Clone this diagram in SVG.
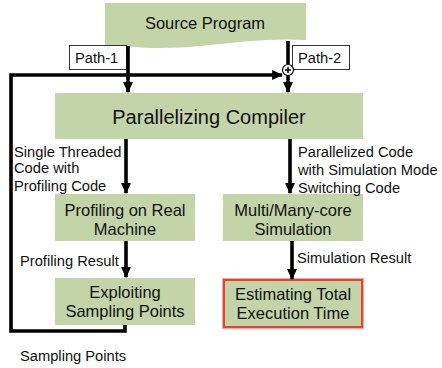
<svg xmlns="http://www.w3.org/2000/svg" width="442" height="368" viewBox="0 0 442 368">
<defs>
<style>
.box{fill:#c3d4a9;}
.t{font-family:"Liberation Sans",Arial,sans-serif;fill:#111;}
.big{font-size:20px;text-anchor:middle;}
.mid{font-size:16.5px;text-anchor:middle;}
.sm{font-size:14.7px;}
.ln{stroke:#000;stroke-width:3.6;fill:none;}
.lbl{fill:#fff;stroke:#333;stroke-width:1;}
</style>
<marker id="ah" viewBox="0 0 10 10" refX="9" refY="5" markerWidth="11" markerHeight="11" orient="auto" markerUnits="userSpaceOnUse">
<path d="M0,0.5 L10,5 L0,9.5 z" fill="#000"/>
</marker>
</defs>
<g id="source">
<path class="box" d="M105,3 H306 V40 C270,38 240,42 200,46 C160,50 130,47 105,45 Z"/>
<text class="t mid" x="205" y="29">Source Program</text>
</g>
<g id="path1label">
<rect class="lbl" x="69.5" y="45.5" width="57" height="24"/>
<text class="t sm" x="75" y="63">Path-1</text>
</g>
<g id="path2label">
<rect class="lbl" x="292.5" y="45.5" width="57" height="24"/>
<text class="t sm" x="298" y="63">Path-2</text>
</g>
<g id="compiler">
<rect class="box" x="55" y="93" width="308" height="46"/>
<text class="t big" x="209" y="124">Parallelizing Compiler</text>
</g>
<g id="profiling">
<rect class="box" x="55" y="194" width="140" height="47"/>
<text class="t mid" x="125" y="216">Profiling on Real</text>
<text class="t mid" x="125" y="235">Machine</text>
</g>
<g id="simulation">
<rect class="box" x="223" y="194" width="140" height="47"/>
<text class="t mid" x="293" y="216">Multi/Many-core</text>
<text class="t mid" x="293" y="235">Simulation</text>
</g>
<g id="exploiting">
<rect class="box" x="55" y="278" width="140" height="47"/>
<text class="t mid" x="125" y="298">Exploiting</text>
<text class="t mid" x="125" y="317">Sampling Points</text>
</g>
<g id="estimating">
<rect x="222.5" y="278.5" width="141" height="50" fill="none" stroke="#f4a79c" stroke-width="1"/>
<rect class="box" x="224" y="280" width="138" height="47" stroke="#e8432f" stroke-width="2"/>
<text class="t mid" x="293" y="300">Estimating Total</text>
<text class="t mid" x="293" y="319">Execution Time</text>
</g>
<g id="connectors">
<line class="ln" x1="128" y1="46" x2="128" y2="92" marker-end="url(#ah)"/>
<line class="ln" x1="288" y1="41" x2="288" y2="64"/>
<line class="ln" x1="288" y1="75" x2="288" y2="92" marker-end="url(#ah)"/>
<polyline class="ln" points="125,325 125,331 11,331 11,75 282,75" marker-end="url(#ah)"/>
<line class="ln" x1="126" y1="139" x2="126" y2="193" marker-end="url(#ah)"/>
<line class="ln" x1="290" y1="139" x2="290" y2="193" marker-end="url(#ah)"/>
<line class="ln" x1="126" y1="241" x2="126" y2="277" marker-end="url(#ah)"/>
<line class="ln" x1="292" y1="241" x2="292" y2="279" marker-end="url(#ah)"/>
<circle cx="288" cy="70" r="5.5" fill="#fff" stroke="#000" stroke-width="1.2"/>
<path d="M285,70 H291 M288,67 V73" stroke="#000" stroke-width="1.5"/>
</g>
<g id="edge-labels">
<text class="t sm" x="14" y="157">Single Threaded</text>
<text class="t sm" x="14" y="173">Code with</text>
<text class="t sm" x="14" y="191">Profiling Code</text>
<text class="t sm" x="298" y="157">Parallelized Code</text>
<text class="t sm" x="298" y="175">with Simulation Mode</text>
<text class="t sm" x="298" y="193">Switching Code</text>
<text class="t sm" x="20" y="266">Profiling Result</text>
<text class="t sm" x="297" y="263">Simulation Result</text>
<text class="t sm" x="20" y="361">Sampling Points</text>
</g>
</svg>
